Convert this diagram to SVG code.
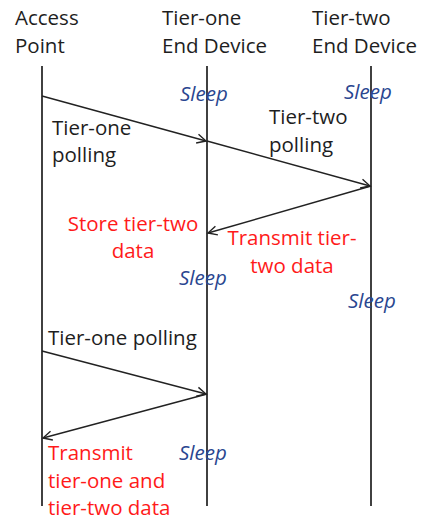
<svg xmlns="http://www.w3.org/2000/svg" width="426" height="522" viewBox="0 0 426 522">
<style>
text{font-family:"Open Sans","Liberation Sans",sans-serif;font-size:20.5px}
.k{fill:#1e1e1e}
.r{fill:#ff1a1a}
.s{fill:#2a4690;font-style:italic}
.life{stroke:#111;stroke-width:1.6;fill:none}
.msg{stroke:#222;stroke-width:1.4;fill:none;marker-end:url(#ah)}
</style>
<defs>
<marker id="ah" markerUnits="userSpaceOnUse" markerWidth="14" markerHeight="14" viewBox="-12 -7 14 14" refX="0" refY="0" orient="auto">
<path d="M-9,-4.5 L0,0 L-9,4.5" fill="none" stroke="#222" stroke-width="1.4"/>
</marker>
</defs>
<rect width="426" height="522" fill="#fff"/>
<g id="ap">
<text class="k" x="15" y="25">Access</text>
<text class="k" x="15" y="53">Point</text>
<line class="life" x1="42" y1="66" x2="42" y2="506"/>
</g>
<g id="t1">
<text class="k" x="162" y="25">Tier-one</text>
<text class="k" x="162" y="53">End Device</text>
<line class="life" x1="207" y1="66" x2="207" y2="506"/>
</g>
<g id="t2">
<text class="k" x="312" y="25">Tier-two</text>
<text class="k" x="312" y="53">End Device</text>
<line class="life" x1="371" y1="66" x2="371" y2="506"/>
</g>
<g id="connectors">
<line class="msg" x1="42" y1="96" x2="206" y2="141"/>
<line class="msg" x1="207" y1="141" x2="370" y2="186"/>
<line class="msg" x1="371" y1="186" x2="208" y2="233"/>
<line class="msg" x1="42" y1="351" x2="206" y2="394"/>
<line class="msg" x1="207" y1="394" x2="43" y2="438"/>
</g>
<g id="labels">
<text class="k" x="52" y="135">Tier-one</text>
<text class="k" x="52" y="162">polling</text>
<text class="k" x="269" y="124">Tier-two</text>
<text class="k" x="269" y="152">polling</text>
<text class="r" x="133" y="231" text-anchor="middle">Store tier-two</text>
<text class="r" x="133" y="258" text-anchor="middle">data</text>
<text class="r" x="292" y="245" text-anchor="middle">Transmit tier-</text>
<text class="r" x="292" y="273" text-anchor="middle">two data</text>
<text class="k" x="48" y="345">Tier-one polling</text>
<text class="r" x="48" y="460">Transmit</text>
<text class="r" x="48" y="488">tier-one and</text>
<text class="r" x="48" y="515">tier-two data</text>
</g>
<g id="sleep">
<text class="s" x="180" y="101">Sleep</text>
<text class="s" x="344" y="99">Sleep</text>
<text class="s" x="179" y="285">Sleep</text>
<text class="s" x="348" y="308">Sleep</text>
<text class="s" x="179" y="460">Sleep</text>
</g>
</svg>
